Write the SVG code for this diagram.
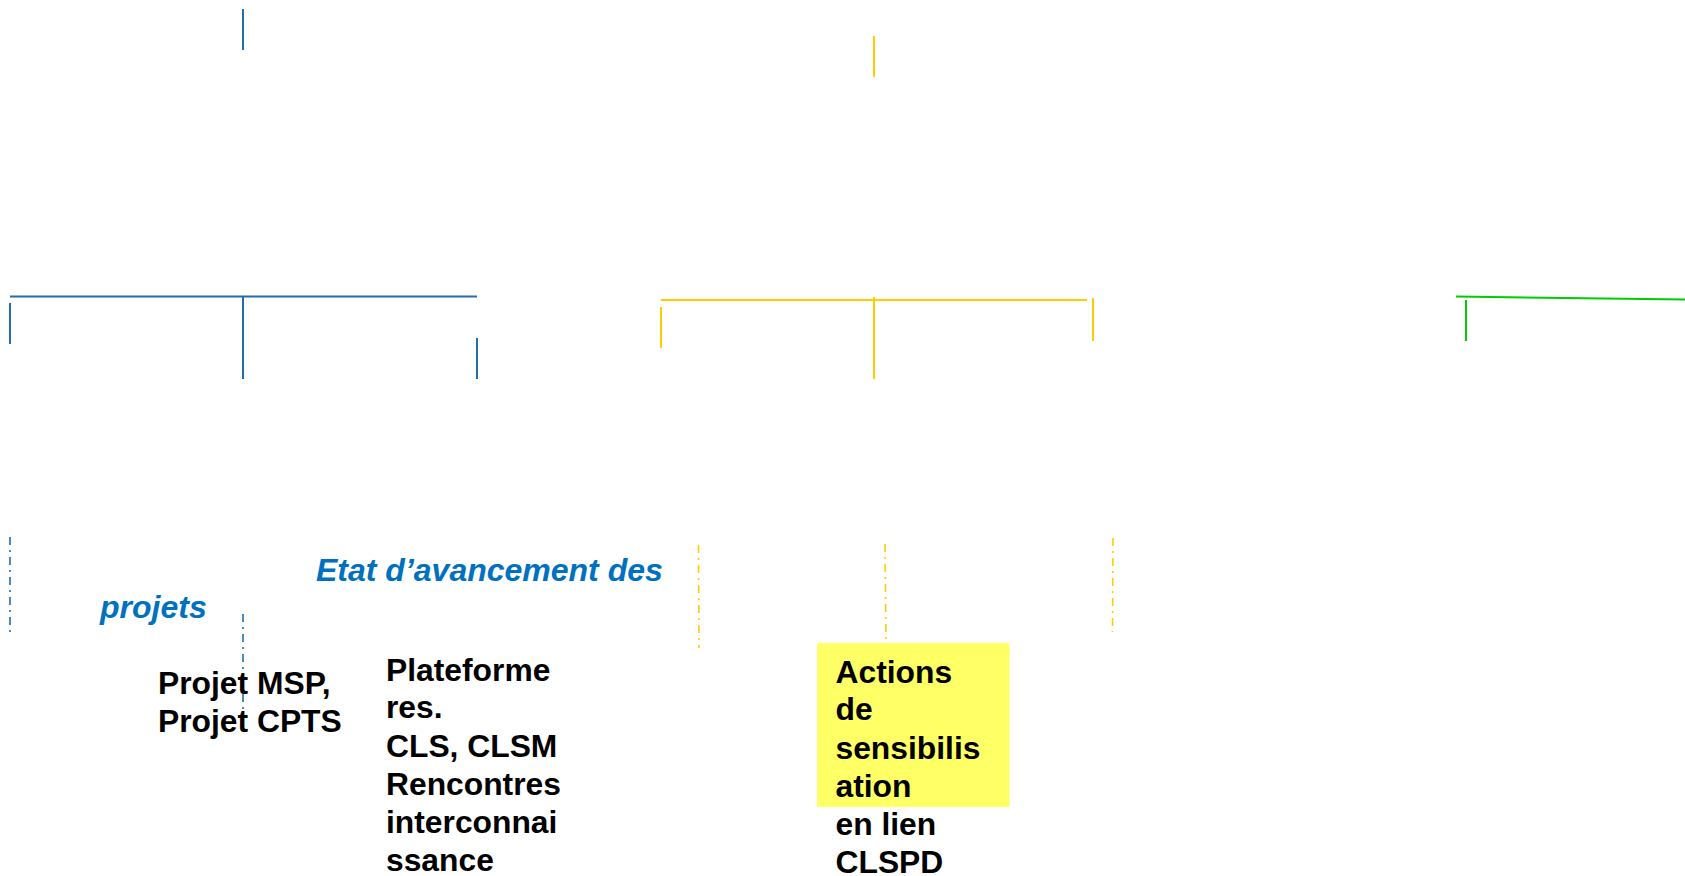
<svg xmlns="http://www.w3.org/2000/svg" width="1685" height="876" viewBox="0 0 1685 876">
  <style>
    .blue { stroke: #236EA8; stroke-width: 2; fill: none; }
    .yel { stroke: #FFCC00; stroke-width: 2; fill: none; }
    .grn { stroke: #00CC00; stroke-width: 2; fill: none; }
    .dash { stroke-dasharray: 8 5 2 5; stroke-width: 1.6; }
    .title { font-family: "Liberation Sans", Arial, sans-serif; font-weight: bold; font-style: italic; font-size: 32px; fill: #0070C0; }
    .lbl { font-family: "Liberation Sans", Arial, sans-serif; font-weight: bold; font-size: 31.8px; fill: #000000; }
  </style>
  <rect width="1685" height="876" fill="#FFFFFF"/>
  <g id="connectors">
    <line class="blue" x1="243" y1="9" x2="243" y2="50"/>
    <line class="blue" x1="10" y1="296.5" x2="477" y2="296.5"/>
    <line class="blue" x1="10" y1="303" x2="10" y2="344"/>
    <line class="blue" x1="243" y1="296" x2="243" y2="379"/>
    <line class="blue" x1="477" y1="338" x2="477" y2="379"/>
    <line class="yel" x1="874" y1="36" x2="874" y2="77"/>
    <line class="yel" x1="661" y1="300" x2="1087" y2="300"/>
    <line class="yel" x1="661" y1="307" x2="661" y2="348"/>
    <line class="yel" x1="874" y1="297" x2="874" y2="379"/>
    <line class="yel" x1="1093" y1="298" x2="1093" y2="341"/>
    <line class="grn" x1="1456" y1="296.5" x2="1685" y2="299.5"/>
    <line class="grn" x1="1466" y1="300" x2="1466" y2="341"/>
    <line class="blue dash" x1="10" y1="537" x2="10" y2="633"/>
    <line class="blue dash" x1="243" y1="614" x2="243" y2="712"/>
    <line class="yel dash" x1="698.5" y1="545" x2="699" y2="648"/>
    <line class="yel dash" x1="885" y1="544" x2="886" y2="643"/>
    <line class="yel dash" x1="1113" y1="538" x2="1112.5" y2="632"/>
  </g>
  <g id="title">
    <text class="title" x="316" y="580.5">Etat d’avancement des</text>
    <text class="title" x="100" y="617.5">projets</text>
  </g>
  <g id="node-msp">
    <text class="lbl" x="158" y="694">Projet MSP,</text>
    <text class="lbl" x="158" y="731.5">Projet CPTS</text>
  </g>
  <g id="node-plateformes">
    <text class="lbl" x="386" y="680.5">Plateforme</text>
    <text class="lbl" x="386" y="718">res.</text>
    <text class="lbl" x="386" y="756.5">CLS, CLSM</text>
    <text class="lbl" x="386" y="795">Rencontres</text>
    <text class="lbl" x="386" y="833">interconnai</text>
    <text class="lbl" x="386" y="870.5">ssance</text>
  </g>
  <g id="node-actions">
    <rect x="817" y="643" width="192.5" height="164" fill="#FFFF66"/>
    <text class="lbl" x="835.5" y="682.5">Actions</text>
    <text class="lbl" x="835.5" y="720">de</text>
    <text class="lbl" x="835.5" y="759">sensibilis</text>
    <text class="lbl" x="835.5" y="796.5">ation</text>
    <text class="lbl" x="835.5" y="835">en lien</text>
    <text class="lbl" x="835.5" y="872.5">CLSPD</text>
  </g>
</svg>
